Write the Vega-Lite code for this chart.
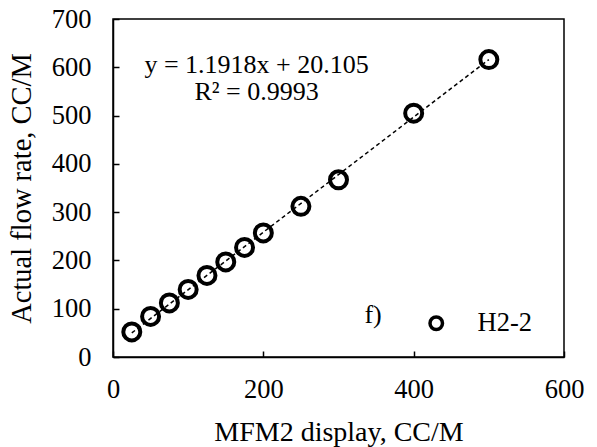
{
  "$schema": "https://vega.github.io/schema/vega-lite/v6.json",
  "width": 451,
  "height": 338,
  "autosize": "none",
  "padding": {"left": 113, "top": 19, "right": 33, "bottom": 90},
  "background": "white",
  "config": {
    "font": "Liberation Serif",
    "view": {"stroke": "black", "strokeWidth": 1.5},
    "axis": {
      "grid": false,
      "domainColor": "black",
      "domainWidth": 1.5,
      "tickColor": "black",
      "tickWidth": 1.5,
      "tickSize": -6,
      "labelFlush": false,
      "labelOverlap": false,
      "labelFontSize": 26.5,
      "labelColor": "black",
      "labelFont": "Liberation Serif",
      "titleFont": "Liberation Serif",
      "titleFontWeight": "normal",
      "titleColor": "black"
    },
    "legend": {
      "labelFont": "Liberation Serif",
      "labelFontSize": 26.5,
      "labelColor": "black"
    }
  },
  "datasets": {
    "obs": [
      {"display": 25, "actual": 52, "series": "H2-2"},
      {"display": 50, "actual": 84, "series": "H2-2"},
      {"display": 75, "actual": 112, "series": "H2-2"},
      {"display": 100, "actual": 140, "series": "H2-2"},
      {"display": 125, "actual": 169, "series": "H2-2"},
      {"display": 150, "actual": 197, "series": "H2-2"},
      {"display": 175, "actual": 227, "series": "H2-2"},
      {"display": 200, "actual": 257, "series": "H2-2"},
      {"display": 250, "actual": 312, "series": "H2-2"},
      {"display": 300, "actual": 367, "series": "H2-2"},
      {"display": 400, "actual": 505, "series": "H2-2"},
      {"display": 500, "actual": 616, "series": "H2-2"}
    ],
    "fit": [
      {"display": 25, "actual": 49.9},
      {"display": 500, "actual": 616.0}
    ],
    "notes": [
      {"display": 191, "actual": 589, "label": "y = 1.1918x + 20.105"},
      {"display": 191, "actual": 533, "label": "R² = 0.9993"},
      {"display": 346, "actual": 70, "label": "f)"}
    ]
  },
  "layer": [
    {
      "data": {"name": "fit"},
      "mark": {"type": "line", "color": "black", "strokeWidth": 1.5, "strokeDash": [4, 3]},
      "encoding": {
        "x": {
          "field": "display", "type": "quantitative",
          "scale": {"domain": [0, 600], "nice": false},
          "axis": {"title": "MFM2 display, CC/M", "values": [0, 200, 400, 600], "labelPadding": 25, "titlePadding": 16, "titleFontSize": 28}
        },
        "y": {
          "field": "actual", "type": "quantitative",
          "scale": {"domain": [0, 700], "nice": false},
          "axis": {"title": "Actual flow rate, CC/M", "values": [0, 100, 200, 300, 400, 500, 600, 700], "labelPadding": 28, "titlePadding": 15, "titleFontSize": 28.5}
        }
      }
    },
    {
      "data": {"name": "obs"},
      "mark": {"type": "point", "shape": "circle", "filled": false, "strokeWidth": 4, "size": 289, "opacity": 1},
      "encoding": {
        "x": {"field": "display", "type": "quantitative"},
        "y": {"field": "actual", "type": "quantitative"},
        "color": {
          "field": "series", "type": "nominal",
          "scale": {"range": ["black"]},
          "legend": {
            "title": null,
            "orient": "none",
            "legendX": 310,
            "legendY": 291,
            "symbolSize": 156,
            "symbolStrokeWidth": 3.5,
            "symbolType": "circle",
            "labelOffset": 28
          }
        }
      }
    },
    {
      "data": {"name": "notes"},
      "mark": {"type": "text", "fontSize": 26, "font": "Liberation Serif", "color": "black", "align": "center", "baseline": "alphabetic"},
      "encoding": {
        "x": {"field": "display", "type": "quantitative"},
        "y": {"field": "actual", "type": "quantitative"},
        "text": {"field": "label"}
      }
    }
  ]
}
